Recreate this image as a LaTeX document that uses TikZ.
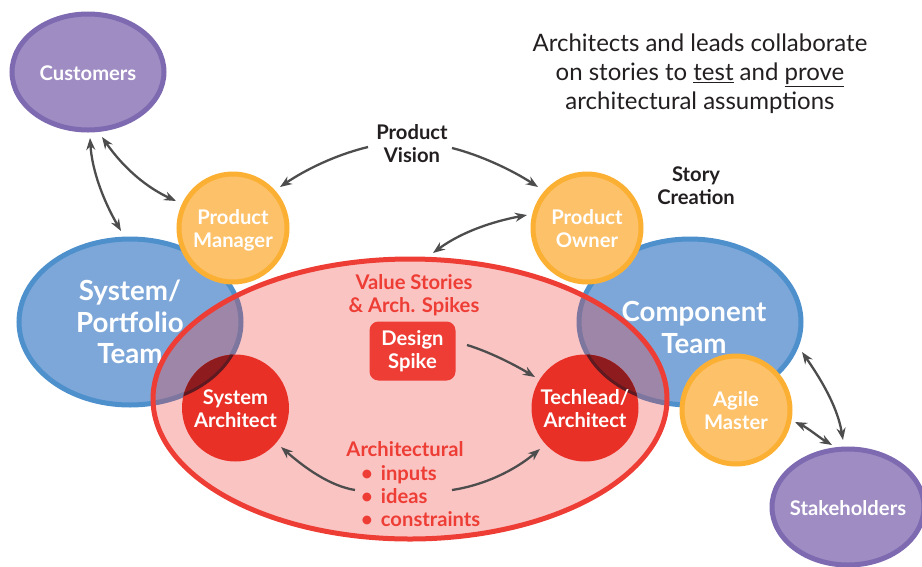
\documentclass[tikz,border=0pt]{standalone}
\usepackage{fontspec}
\setmainfont{Lato}
\usetikzlibrary{shapes.geometric,arrows.meta}
\definecolor{bluefill}{HTML}{7DA7D9}
\definecolor{bluedraw}{HTML}{4D90CC}
\definecolor{orfill}{HTML}{FDC169}
\definecolor{ordraw}{HTML}{FBB034}
\definecolor{pufill}{HTML}{9E8CC3}
\definecolor{pudraw}{HTML}{7D6AB0}
\definecolor{redline}{HTML}{EE3D35}
\definecolor{redtint}{RGB}{237,60,55}
\definecolor{redcirc}{HTML}{E93027}
\definecolor{reddark}{HTML}{8E1C1F}
\definecolor{reddarker}{HTML}{5E1A20}
\definecolor{arrowgray}{HTML}{4D4D4D}
\definecolor{labelgray}{HTML}{231F20}
\newcommand{\myshift}{\rule{0pt}{21pt}}
\tikzset{
  x=1pt,y=-1pt,
  lbl/.style={align=center,font=\bfseries\fontsize{20.2}{23}\selectfont,inner sep=0pt},
  white label/.style={lbl,text=white},
  teamnode/.style={ellipse,draw=bluedraw,fill=bluefill,line width=5pt,minimum width=222pt,minimum height=166pt,inner sep=-15pt,text=white,align=center,font=\bfseries\fontsize{27.7}{31.5}\selectfont},
  rolenode/.style={circle,draw=ordraw,fill=orfill,line width=5pt,minimum size=108pt,white label,inner sep=-15pt},
  pplnode/.style={ellipse,draw=pudraw,fill=pufill,line width=5pt,minimum width=152pt,minimum height=116pt,white label,inner sep=-20pt},
  archnode/.style={circle,fill=redcirc,minimum size=107pt,white label,inner sep=-15pt},
  redlabel/.style={lbl,text=redline},
  conn/.style={draw=arrowgray,line width=2.3pt,-{Stealth[length=12pt,width=9pt]}},
  bothconn/.style={draw=arrowgray,line width=2.3pt,{Stealth[length=12pt,width=9pt]}-{Stealth[length=12pt,width=9pt]}},
}
\begin{document}
\begin{tikzpicture}
\path[use as bounding box,clip] (0,0) rectangle (922,566);
% teams
\node[teamnode] (sysTeam) at (130,322) {System/\\Portfolio\\Team};
\node[teamnode] (compTeam) at (690,322) {\rule{0pt}{31pt}\hspace*{8pt}Component\\\hspace*{8pt}Team};
% outer people
\node[pplnode] (cust) at (88,72) {\rule{0pt}{17pt}Customers};
\node[pplnode] (stake) at (848,507) {\rule{0pt}{18pt}Stakeholders};
% orange roles
\node[rolenode] (pm) at (233,228) {\myshift Product\\Manager\rule[-5pt]{0pt}{5pt}};
\node[rolenode] (po) at (587,228) {\myshift Product\\Owner\rule[-5pt]{0pt}{5pt}};
\node[rolenode] (agile) at (736,410) {\myshift Agile\\Master\rule[-5pt]{0pt}{5pt}};
% red ellipse
\node[ellipse,draw=none,fill=redtint,fill opacity=.3,minimum width=514pt,minimum height=280pt,inner sep=0pt] (team) at (410,399) {};
\node[ellipse,draw=redline,line width=5pt,minimum width=514pt,minimum height=280pt,inner sep=0pt] (teamline) at (410,399) {};
% architects
\node[archnode,path picture={
    \fill[reddark] (sysTeam.center) ellipse[x radius=111,y radius=83];
    \draw[reddarker,line width=3pt] (sysTeam.center) ellipse[x radius=111,y radius=83];
  }] (sysArch) at (235.5,408) {\myshift System\\Architect\rule[-5pt]{0pt}{5pt}};
\node[archnode,path picture={
    \fill[reddark] (compTeam.center) ellipse[x radius=111,y radius=83];
    \draw[reddarker,line width=3pt] (compTeam.center) ellipse[x radius=111,y radius=83];
  }] (techArch) at (585,408) {\myshift Techlead/\\Architect\rule[-5pt]{0pt}{5pt}};
\node[rectangle,rounded corners=9pt,fill=redline,minimum width=86pt,minimum height=59pt,inner sep=0pt,white label] (spike) at (412.5,351) {Design\\Spike};
% labels
\node[redlabel] (values) at (414,295) {Value Stories\\\& Arch. Spikes};
\node[redlabel] (archlab) at (405,449) {Architectural};
\node[redlabel,align=left,anchor=west] (bullets) at (361,496) {•\hspace{8pt}inputs\\•\hspace{8pt}ideas\\•\hspace{8pt}constraints};
\node[lbl,text=labelgray] (vision) at (412,144) {Product\\Vision};
\node[lbl,text=labelgray] (story) at (696,186) {Story\\Creation};
\node[align=center,inner sep=0pt,text=labelgray,font=\fontsize{24}{29}\selectfont] (note) at (700,73.5) {Architects and leads collaborate\\on stories to \underline{test} and \underline{prove}\\architectural assumptions};
% connector ends
\coordinate (c1) at (90,138); \coordinate (c2) at (121,231);
\coordinate (c3) at (102,137); \coordinate (c4) at (176,201);
\coordinate (v1) at (368,147); \coordinate (v2) at (280,187);
\coordinate (v3) at (452,148); \coordinate (v4) at (538,187);
\coordinate (p1) at (433,253); \coordinate (p2) at (527,215);
\coordinate (d1) at (467,345); \coordinate (d2) at (535,377);
\coordinate (a1) at (355,490); \coordinate (a2) at (281,447);
\coordinate (a3) at (452,490); \coordinate (a4) at (540,449);
\coordinate (s1) at (802,352); \coordinate (s2) at (843,440);
\coordinate (g1) at (795,422); \coordinate (g2) at (832,445);
% connectors
\draw[bothconn] (c1) .. controls (92,170) and (103,200) .. (c2);
\draw[bothconn] (c3) .. controls (125,170) and (148,188) .. (c4);
\draw[conn] (v1) .. controls (335,155) and (305,170) .. (v2);
\draw[conn] (v3) .. controls (480,155) and (512,170) .. (v4);
\draw[bothconn] (p1) .. controls (460,233) and (490,222) .. (p2);
\draw[conn] (d1) .. controls (490,352) and (515,365) .. (d2);
\draw[conn] (a1) .. controls (330,486) and (305,468) .. (a2);
\draw[conn] (a3) .. controls (485,485) and (515,470) .. (a4);
\draw[bothconn] (s1) .. controls (825,385) and (838,410) .. (s2);
\draw[bothconn] (g1) .. controls (808,428) and (820,438) .. (g2);
\end{tikzpicture}
\end{document}
